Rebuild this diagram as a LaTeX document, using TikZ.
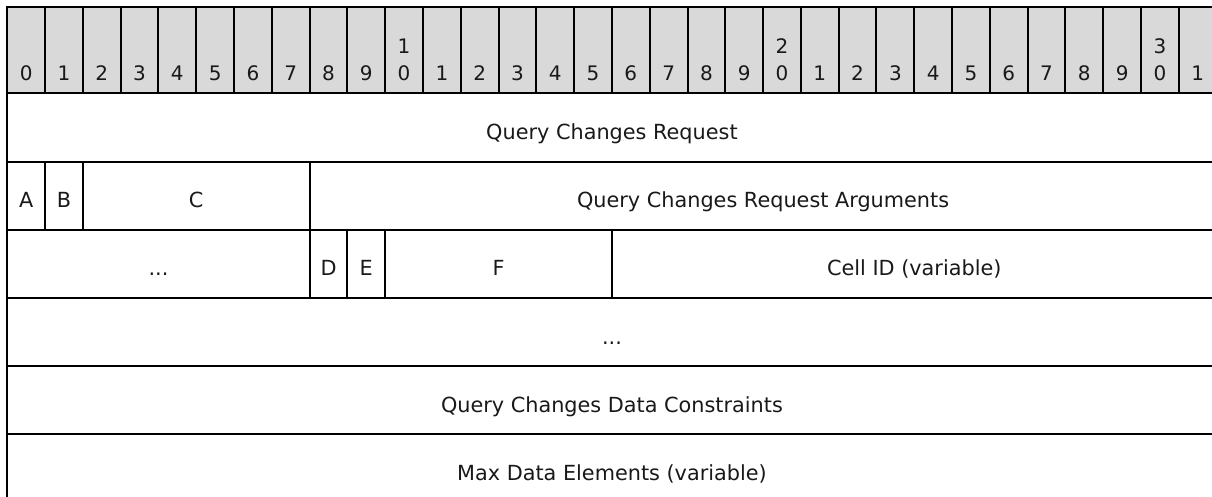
\documentclass[tikz,border=0pt]{standalone}
\usepackage{fontspec}
\setmainfont{DejaVu Sans}
\definecolor{hdrgray}{RGB}{217,217,217}
\newcommand{\bw}{37.79}
\newcommand{\xo}{7.3}
\tikzset{
  cellline/.style={line width=2pt,color=black},
  bitnum/.style={font=\fontsize{20}{24}\selectfont,anchor=base,inner sep=0pt,text=black!90},
  fieldlbl/.style={font=\fontsize{20.8}{24}\selectfont,anchor=base,inner sep=0pt,text=black!90}
}
\begin{document}
\begin{tikzpicture}[x=1pt,y=-1pt]
      \useasboundingbox (0,0) rectangle (1212,496);
      \clip (0,0) rectangle (1212,496);

      % header row with the bit numbers
      \foreach \i in {0,...,31} {
        \draw [cellline,fill=hdrgray] ({\xo+\i*\bw},7.3) rectangle ++(\bw,86);
        \pgfmathtruncatemacro{\tens}{int(\i/10)}
        \pgfmathtruncatemacro{\ones}{mod(\i,10)}
        \node [bitnum] (bit\i) at ({\xo+(\i+0.5)*\bw},80) {\ones};
        \ifnum\ones=0 \ifnum\tens>0
          \node [bitnum] (bit\i t) at ({\xo+(\i+0.5)*\bw},53) {\tens};
        \fi\fi
      }

      % rows
      \foreach \y in {161.5,229.7,297.9,366.1,434.3,502.5}
        \draw [cellline] (\xo,\y) -- ({\xo+32*\bw},\y);
      \draw [cellline] (\xo,93.3) -- (\xo,502.5);
      \draw [cellline] ({\xo+32*\bw},93.3) -- ({\xo+32*\bw},502.5);

      % field borders
      \draw [cellline] ({\xo+1*\bw},161.5) -- ({\xo+1*\bw},229.7);
      \draw [cellline] ({\xo+2*\bw},161.5) -- ({\xo+2*\bw},229.7);
      \draw [cellline] ({\xo+8*\bw},161.5) -- ({\xo+8*\bw},297.9);
      \draw [cellline] ({\xo+9*\bw},229.7) -- ({\xo+9*\bw},297.9);
      \draw [cellline] ({\xo+10*\bw},229.7) -- ({\xo+10*\bw},297.9);
      \draw [cellline] ({\xo+16*\bw},229.7) -- ({\xo+16*\bw},297.9);

      % labels
      \node [fieldlbl] (qcr) at ({\xo+16*\bw},139.5) {Query Changes Request};
      \node [fieldlbl] (fa) at ({\xo+0.5*\bw},207.7) {A};
      \node [fieldlbl] (fb) at ({\xo+1.5*\bw},207.7) {B};
      \node [fieldlbl] (fc) at ({\xo+5*\bw},207.7) {C};
      \node [fieldlbl] (qcra) at ({\xo+20*\bw},207.7) {Query Changes Request Arguments};
      \node [fieldlbl] (more1) at ({\xo+4*\bw},275.9) {...};
      \node [fieldlbl] (fd) at ({\xo+8.5*\bw},275.9) {D};
      \node [fieldlbl] (fe) at ({\xo+9.5*\bw},275.9) {E};
      \node [fieldlbl] (ff) at ({\xo+13*\bw},275.9) {F};
      \node [fieldlbl] (cellid) at ({\xo+24*\bw},275.9) {Cell ID (variable)};
      \node [fieldlbl] (more2) at ({\xo+16*\bw},344.1) {...};
      \node [fieldlbl] (qcdc) at ({\xo+16*\bw},412.3) {Query Changes Data Constraints};
      \node [fieldlbl] (maxde) at ({\xo+16*\bw},480.5) {Max Data Elements (variable)};

    \end{tikzpicture}
\end{document}
